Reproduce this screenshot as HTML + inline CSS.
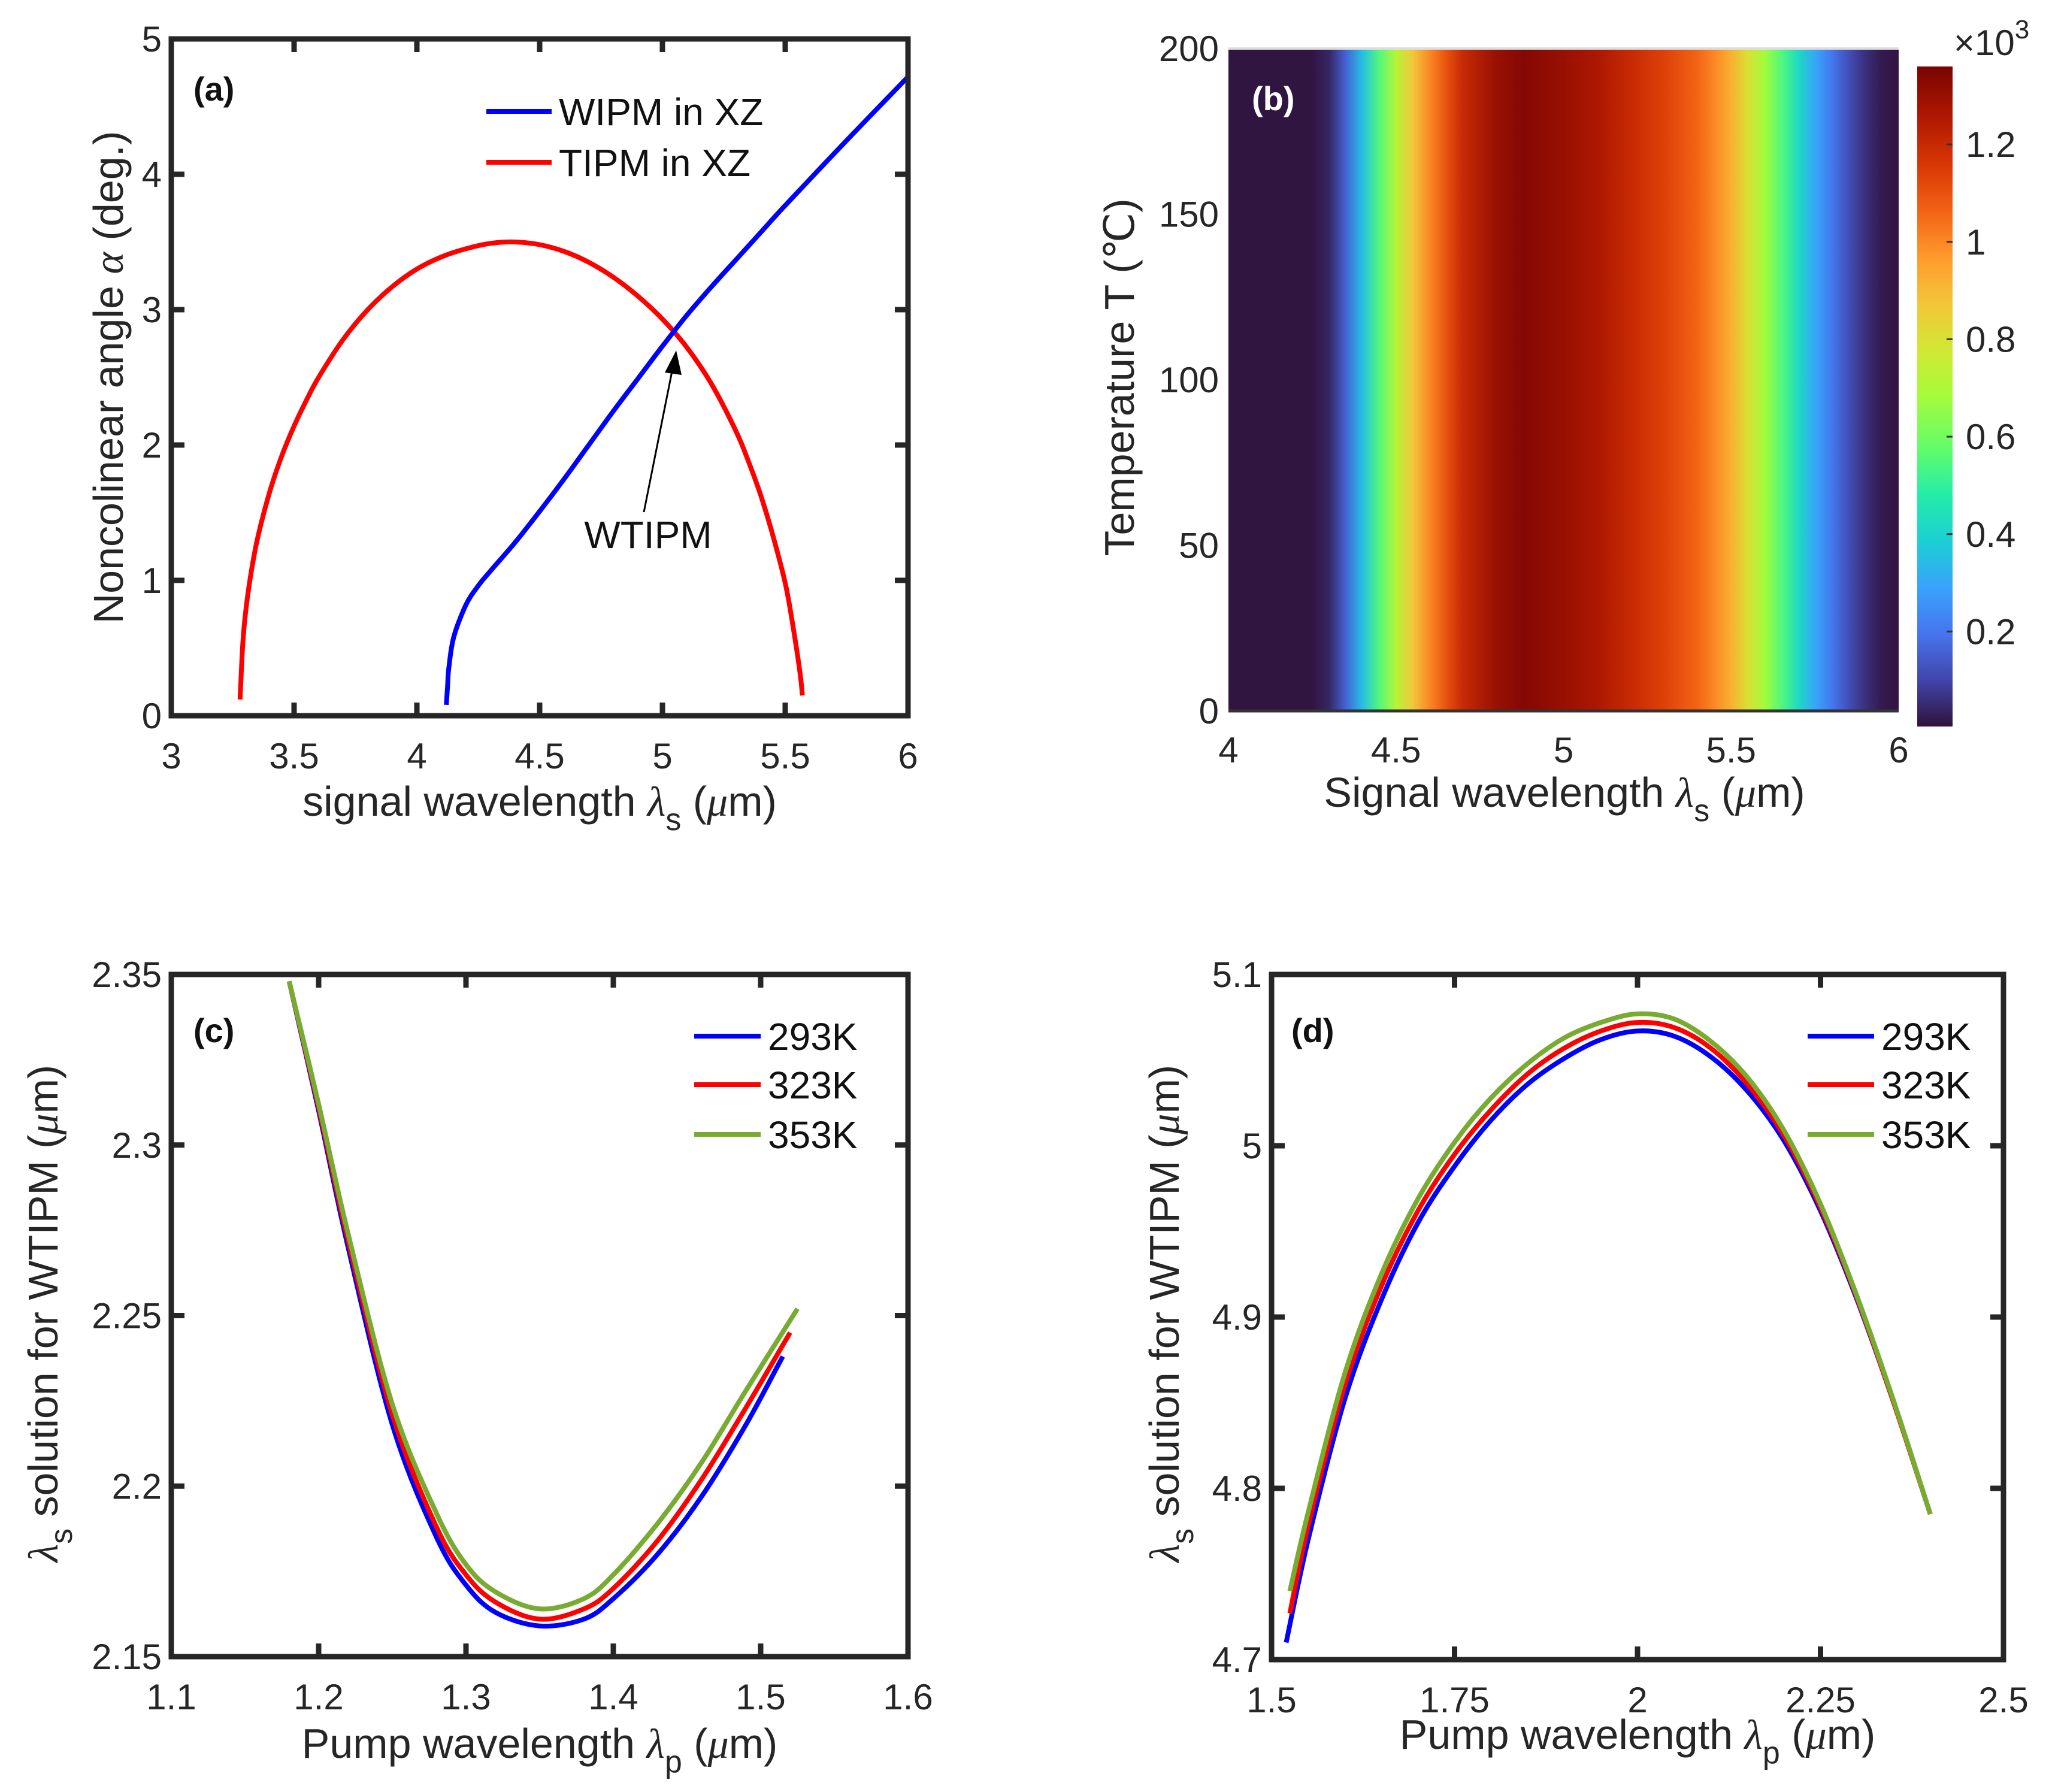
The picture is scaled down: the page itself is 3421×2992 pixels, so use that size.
<!DOCTYPE html>
<html><head><meta charset="utf-8"><style>
html,body{margin:0;padding:0;background:#fff;}
svg{display:block;font-family:"Liberation Sans",sans-serif;}
</style></head><body>
<svg id="fig" xmlns="http://www.w3.org/2000/svg" width="3421" height="2992" viewBox="0 0 3421 2992">
<defs><linearGradient id="heatgrad" x1="0" x2="1" y1="0" y2="0"></linearGradient>
<linearGradient id="cbgrad" x1="0" x2="0" y1="1" y2="0"></linearGradient>
<clipPath id="clipA"><rect x="286" y="65" width="1230" height="1130"/></clipPath>
<clipPath id="clipC"><rect x="286" y="1627" width="1230" height="1139"/></clipPath>
<clipPath id="clipD"><rect x="2123" y="1627" width="1222" height="1144"/></clipPath>
</defs>
<g id="root"></g>
</svg>
<script>
// ---- Panel (a) data ----
const aRedX = [3.28,3.29,3.3,3.32,3.35,3.4,3.45,3.5,3.55,3.6,3.7,3.8,3.9,4.0,4.1,4.2,4.3,4.4,4.5,4.6,4.7,4.8,4.9,5.0,5.1,5.2,5.3,5.35,5.4,5.45,5.5,5.53,5.56,5.57];
const aRedY = [0.12,0.5,0.72,1.0,1.3,1.65,1.92,2.14,2.33,2.5,2.78,3.0,3.17,3.3,3.39,3.45,3.49,3.5,3.48,3.43,3.35,3.24,3.1,2.93,2.72,2.45,2.1,1.88,1.63,1.33,0.98,0.68,0.32,0.15];
const aBlueX = [4.12,4.125,4.13,4.15,4.2,4.25,4.3,4.4,4.5,4.6,4.7,4.8,4.9,5.0,5.1,5.2,5.3,5.4,5.5,5.75,6.0];
const aBlueY = [0.08,0.22,0.35,0.58,0.82,0.96,1.07,1.28,1.51,1.75,2.0,2.25,2.49,2.73,2.96,3.17,3.37,3.57,3.77,4.25,4.72];
const aXTicks = [3,3.5,4,4.5,5,5.5,6];
const aYTicks = [0,1,2,3,4,5];
// ---- Panel (b) data ----
const bWave = [4.0,4.25,4.3,4.35,4.4,4.45,4.5,4.55,4.6,4.65,4.7,4.8,4.88,5.0,5.1,5.2,5.3,5.4,5.45,5.5,5.55,5.6,5.65,5.7,5.75,5.8,5.85,5.9,5.95,6.0];
const bVal = [0.01,0.01,0.04,0.16,0.35,0.55,0.72,0.87,1.0,1.1,1.2,1.3,1.34,1.3,1.26,1.2,1.14,1.06,1.0,0.92,0.8,0.68,0.55,0.42,0.3,0.2,0.12,0.06,0.02,0.01];
const bXTicks = [4,4.5,5,5.5,6];
const bYTicks = [0,50,100,150,200];
const cbTicks = [0.2,0.4,0.6,0.8,1,1.2];
// ---- Panel (c) data ----
const cX293 = [1.18,1.2,1.22,1.25,1.28,1.3,1.32,1.35,1.38,1.4,1.43,1.46,1.49,1.515];
const cY293 = [2.348,2.31,2.27,2.218,2.185,2.171,2.163,2.159,2.161,2.167,2.18,2.197,2.218,2.238];
const cX323 = [1.18,1.2,1.22,1.25,1.28,1.3,1.32,1.35,1.38,1.4,1.43,1.46,1.49,1.52];
const cY323 = [2.348,2.311,2.272,2.221,2.188,2.174,2.166,2.161,2.164,2.17,2.184,2.202,2.223,2.245];
const cX353 = [1.18,1.2,1.22,1.25,1.28,1.3,1.32,1.35,1.38,1.4,1.43,1.46,1.49,1.525];
const cY353 = [2.348,2.312,2.274,2.224,2.192,2.177,2.169,2.164,2.167,2.174,2.189,2.207,2.228,2.252];
const cXTicks = [1.1,1.2,1.3,1.4,1.5,1.6];
const cYTicks = [2.15,2.2,2.25,2.3,2.35];
// ---- Panel (d) data ----
const dX293 = [1.52,1.55,1.6,1.65,1.7,1.75,1.8,1.85,1.9,1.95,2.0,2.05,2.1,2.15,2.2,2.25,2.3,2.35,2.4];
const dY293 = [4.71,4.77,4.852,4.91,4.955,4.988,5.015,5.036,5.051,5.062,5.067,5.064,5.052,5.032,5.003,4.962,4.91,4.85,4.785];
const dX323 = [1.525,1.55,1.6,1.65,1.7,1.75,1.8,1.85,1.9,1.95,2.0,2.05,2.1,2.15,2.2,2.25,2.3,2.35,2.4];
const dY323 = [4.727,4.778,4.86,4.918,4.962,4.995,5.021,5.042,5.057,5.067,5.072,5.069,5.057,5.036,5.006,4.964,4.911,4.85,4.785];
const dX353 = [1.525,1.55,1.6,1.65,1.7,1.75,1.8,1.85,1.9,1.95,2.0,2.05,2.1,2.15,2.2,2.25,2.3,2.35,2.4];
const dY353 = [4.74,4.786,4.867,4.925,4.969,5.002,5.028,5.048,5.063,5.072,5.077,5.074,5.061,5.04,5.009,4.966,4.912,4.851,4.785];
const dXTicks = [1.5,1.75,2,2.25,2.5];
const dXLabels = ["1.5","1.75","2","2.25","2.5"];
const dYTicks = [4.7,4.8,4.9,5,5.1];

const NS="http://www.w3.org/2000/svg";
const root=document.getElementById('root');
const TICKFS=60, TITLEFS=70, LEGFS=64;
function el(tag,attrs,parent){const e=document.createElementNS(NS,tag);for(const k in attrs)e.setAttribute(k,attrs[k]);(parent||root).appendChild(e);return e;}
function scale(d0,d1,r0,r1){return v=>r0+(v-d0)/(d1-d0)*(r1-r0);}
function smoothPath(xs,ys,sx,sy){
  const p=xs.map((x,i)=>[sx(x),sy(ys[i])]);
  let d='M'+p[0][0].toFixed(1)+','+p[0][1].toFixed(1);
  for(let i=0;i<p.length-1;i++){
    const p0=p[i-1]||p[i],p1=p[i],p2=p[i+1],p3=p[i+2]||p2;
    const c1=[p1[0]+(p2[0]-p0[0])/6,p1[1]+(p2[1]-p0[1])/6];
    const c2=[p2[0]-(p3[0]-p1[0])/6,p2[1]-(p3[1]-p1[1])/6];
    d+=' C'+c1[0].toFixed(1)+','+c1[1].toFixed(1)+' '+c2[0].toFixed(1)+','+c2[1].toFixed(1)+' '+p2[0].toFixed(1)+','+p2[1].toFixed(1);
  }
  return d;
}
const AX='#262626';
function txt(x,y,s,size,anchor,parent,extra){const t=el('text',Object.assign({x:x,y:y,'font-size':size,'text-anchor':anchor||'middle',fill:'#262626'},extra||{}),parent);t.textContent=s;return t;}
function boxAxes(g,L,R,T,B,sx,sy,xt,yt,xl){
  const tl=22;
  xt.forEach((v,i)=>{const x=sx(v);
    el('line',{x1:x,y1:B,x2:x,y2:B-tl,stroke:AX,'stroke-width':9},g);
    el('line',{x1:x,y1:T,x2:x,y2:T+tl,stroke:AX,'stroke-width':9},g);
    const t=txt(x,B+88,xl?xl[i]:String(v),TICKFS,'middle',g);
    
    });
  yt.forEach(v=>{const y=sy(v);
    el('line',{x1:L,y1:y,x2:L+tl,y2:y,stroke:AX,'stroke-width':9},g);
    el('line',{x1:R,y1:y,x2:R-tl,y2:y,stroke:AX,'stroke-width':9},g);
    const t=txt(L-16,y+21,String(v),TICKFS,'end',g);
    
    });
  const r=el('rect',{x:L,y:T,width:R-L,height:B-T,fill:'none',stroke:AX,'stroke-width':9},g);
  
  
}
function series(g,xs,ys,sx,sy,color,name,clip){
  const p=el('path',{d:smoothPath(xs,ys,sx,sy),fill:'none',stroke:color,'stroke-width':8,'stroke-linejoin':'round','clip-path':clip?'url(#'+clip+')':''},g);
  
  
}
function legendEntry(g,x1,x2,y,color,label,name){
  const lg=el('g',{},g);
  
  
  el('line',{x1:x1,y1:y,x2:x2,y2:y,stroke:color,'stroke-width':8},lg);
  txt(x2+12,y+23,label,LEGFS,'start',lg,{fill:'#111'});
}
function axTitleX(g,x,y,pre,sub){
  const t=el('text',{x:x,y:y,'font-size':TITLEFS,'text-anchor':'middle',fill:'#262626'},g);
  
  
  t.innerHTML=pre+'<tspan font-family="Liberation Serif" font-style="italic">λ</tspan><tspan font-size="52" dy="24">'+sub+'</tspan><tspan dy="-24"> (</tspan><tspan font-family="Liberation Serif" font-style="italic">μ</tspan>m)';
}
function axTitleY(g,x,y,html){
  const t=el('text',{x:0,y:0,'font-size':TITLEFS,'text-anchor':'middle',fill:'#262626',transform:'translate('+x+','+y+') rotate(-90)'},g);
  
  t.innerHTML=html;
}
const lsHTML='<tspan font-family="Liberation Serif" font-style="italic">λ</tspan><tspan font-size="52" dy="24">s</tspan><tspan dy="-24"> solution for WTIPM (</tspan><tspan font-family="Liberation Serif" font-style="italic">μ</tspan>m)';

// ===== Panel (a) =====
{
const g=el('g',{});
const L=286,R=1516,T=65,B=1195;
const sx=scale(3,6,L,R), sy=scale(0,5,B,T);
series(g,aRedX,aRedY,sx,sy,'#ff0000','tipm-curve','clipA');
series(g,aBlueX,aBlueY,sx,sy,'#0000ff','wipm-curve','clipA');
boxAxes(g,L,R,T,B,sx,sy,aXTicks,aYTicks);
legendEntry(g,812,921,186,'#0000ff','WIPM in XZ','legend-entry-wipm');
legendEntry(g,812,921,271,'#ff0000','TIPM in XZ','legend-entry-tipm');
const lab=txt(323,168,'(a)',56,'start',g,{'font-weight':'bold',fill:'#111'});

const an=el('g',{},g);
el('line',{x1:1075,y1:855,x2:1124,y2:610,stroke:'#000','stroke-width':3},an);
el('polygon',{points:'1129,585 1110,622 1138,626',fill:'#000'},an);
txt(1082,915,'WTIPM',64,'middle',an,{fill:'#111'});
axTitleX(g,901,1362,'signal wavelength ','s');
axTitleY(g,205,630,'Noncolinear angle <tspan font-family="Liberation Serif" font-style="italic">α</tspan> (deg.)');
}

// ===== Panel (b) =====
const turbo=[[0,'#30123b'],[0.07,'#4145ab'],[0.14,'#4675ed'],[0.21,'#39a2fc'],[0.28,'#1bcfd4'],[0.35,'#24eca6'],[0.42,'#61fc6c'],[0.5,'#a4fc3b'],[0.57,'#d1e834'],[0.64,'#f3c63a'],[0.71,'#fe9b2d'],[0.78,'#f36315'],[0.85,'#d93806'],[0.92,'#b11901'],[1,'#7a0403']];
function hex(c){return [1,3,5].map(i=>parseInt(c.substr(i,2),16));}
function cmap(t){t=Math.max(0,Math.min(1,t));for(let i=0;i<turbo.length-1;i++){if(t<=turbo[i+1][0]){const f=(t-turbo[i][0])/(turbo[i+1][0]-turbo[i][0]);const a=hex(turbo[i][1]),b=hex(turbo[i+1][1]);return 'rgb('+a.map((v,k)=>Math.round(v+(b[k]-v)*f)).join(',')+')';}}return turbo[turbo.length-1][1];}
{
const g=el('g',{});
const L=2051,R=3170,T=81,B=1187;
const cmin=0.005,cmax=1.36;
const sx=scale(4,6,L,R), sy=scale(0,200,B,T);
const grad=document.getElementById('heatgrad');
bWave.forEach((w,i)=>{el('stop',{offset:((w-4)/2).toFixed(4),'stop-color':cmap((bVal[i]-cmin)/(cmax-cmin))},grad);});
const hm=el('rect',{x:L,y:T,width:R-L,height:B-T,fill:'url(#heatgrad)'},g);

el('line',{x1:L,y1:B,x2:R,y2:B,stroke:'#333','stroke-width':5},g);
el('line',{x1:L,y1:T,x2:R,y2:T,stroke:'#ddd','stroke-width':4},g);
bXTicks.forEach(v=>{const t=txt(sx(v),B+86,String(v),TICKFS,'middle',g);});
bYTicks.forEach(v=>{const t=txt(L-16,sy(v)+21,String(v),TICKFS,'end',g);});
const lab=txt(2090,184,'(b)',56,'start',g,{'font-weight':'bold',fill:'#fff'});

axTitleX(g,2612,1347,'Signal wavelength ','s');
axTitleY(g,1893,630,'Temperature T (℃)');
const cbL=3201,cbR=3260,cbT=111,cbB=1213;
const cy=scale(cmin,cmax,cbB,cbT);
const cg=document.getElementById('cbgrad');
turbo.forEach(s=>el('stop',{offset:s[0],'stop-color':s[1]},cg));
const cb=el('rect',{x:cbL,y:cbT,width:cbR-cbL,height:cbB-cbT,fill:'url(#cbgrad)'},g);

cbTicks.forEach(v=>{const y=cy(v);el('line',{x1:cbR-10,y1:y,x2:cbR,y2:y,stroke:'#333','stroke-width':3},g);
 const t=txt(cbR+22,y+21,String(v),TICKFS,'start',g);});
const ex=el('text',{x:3262,y:92,'font-size':60,fill:'#262626'},g);

ex.innerHTML='×10<tspan font-size="44" dy="-28">3</tspan>';
}

// ===== Panel (c) =====
{
const g=el('g',{});
const L=286,R=1516,T=1627,B=2766;
const sx=scale(1.1,1.6,L,R), sy=scale(2.15,2.35,B,T);
series(g,cX293,cY293,sx,sy,'#0000ff','series-293k','clipC');
series(g,cX323,cY323,sx,sy,'#ff0000','series-323k','clipC');
series(g,cX353,cY353,sx,sy,'#77ac30','series-353k','clipC');
boxAxes(g,L,R,T,B,sx,sy,cXTicks,cYTicks);
legendEntry(g,1159,1270,1730,'#0000ff','293K','legend-entry-293k');
legendEntry(g,1159,1270,1811,'#ff0000','323K','legend-entry-323k');
legendEntry(g,1159,1270,1894,'#77ac30','353K','legend-entry-353k');
const lab=txt(323,1740,'(c)',56,'start',g,{'font-weight':'bold',fill:'#111'});

axTitleX(g,901,2935,'Pump wavelength ','p');
axTitleY(g,96,2193,lsHTML);
}

// ===== Panel (d) =====
{
const g=el('g',{});
const L=2123,R=3345,T=1627,B=2771;
const sx=scale(1.5,2.5,L,R), sy=scale(4.7,5.1,B,T);
series(g,dX293,dY293,sx,sy,'#0000ff','series-293k','clipD');
series(g,dX323,dY323,sx,sy,'#ff0000','series-323k','clipD');
series(g,dX353,dY353,sx,sy,'#77ac30','series-353k','clipD');
boxAxes(g,L,R,T,B,sx,sy,dXTicks,dYTicks,dXLabels);
legendEntry(g,3018,3129,1730,'#0000ff','293K','legend-entry-293k');
legendEntry(g,3018,3129,1811,'#ff0000','323K','legend-entry-323k');
legendEntry(g,3018,3129,1894,'#77ac30','353K','legend-entry-353k');
const lab=txt(2156,1740,'(d)',56,'start',g,{'font-weight':'bold',fill:'#111'});

axTitleX(g,2734,2920,'Pump wavelength ','p');
axTitleY(g,1968,2193,lsHTML);
}
</script>
</body></html>
